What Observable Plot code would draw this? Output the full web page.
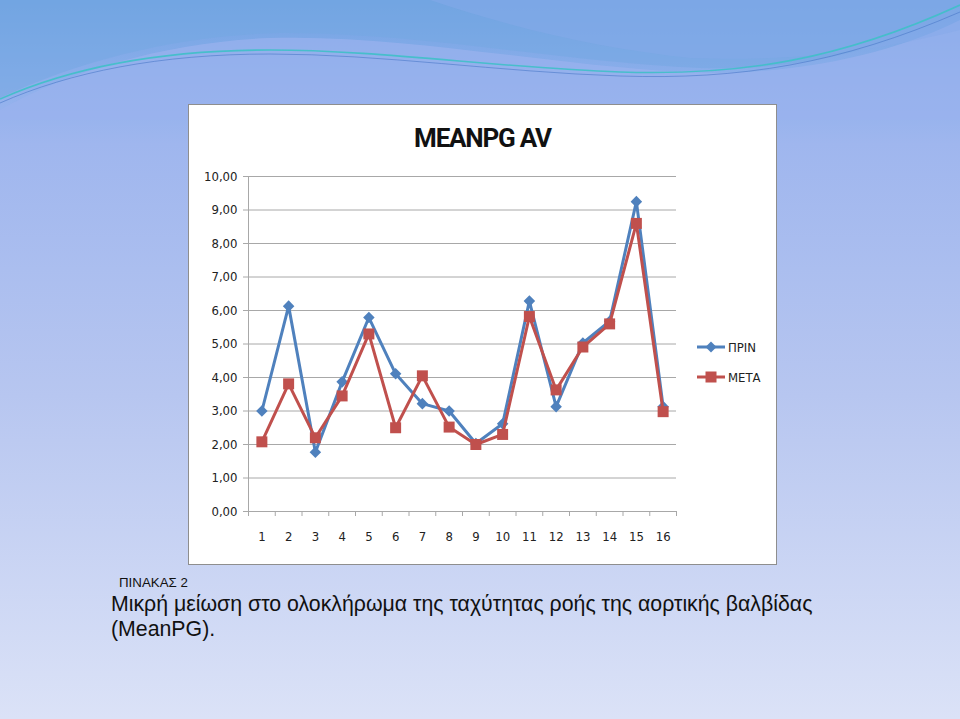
<!DOCTYPE html>
<html>
<head>
<meta charset="utf-8">
<script src="https://cdn.jsdelivr.net/npm/d3@7"></script>
<script src="https://cdn.jsdelivr.net/npm/@observablehq/plot@0.6"></script>
<style>
  html, body { margin: 0; padding: 0; }
  body {
    width: 960px; height: 719px; position: relative; overflow: hidden;
    background: linear-gradient(to bottom, #6fa2e2 0%, #8fb0ec 12%, #9fb6ee 20%, #b7c6f0 55%, #dbe2f7 100%);
    font-family: "Liberation Sans", Arial, sans-serif;
  }
  #deco { position: absolute; left: 0; top: 0; }
  #box {
    position: absolute; left: 188px; top: 104px; width: 589px; height: 461px;
    box-sizing: border-box; background: #fff; border: 1px solid #8e8e8e;
  }
  #title {
    position: absolute; left: 0; right: 0; top: 18px; text-align: center;
    font-family: Roboto, "DejaVu Sans Condensed", sans-serif;
    font-weight: bold; font-size: 26px; color: #111; letter-spacing: -1.2px;
  }
  #plot { position: absolute; left: 0; top: 55px; }
  #legend {
    position: absolute; left: 507px; top: 227px;
    font-family: "DejaVu Sans Condensed", sans-serif;
    font-size: 13px; color: #222;
  }
  .lg { display: flex; align-items: center; height: 30px; }
  .lg svg { margin-right: 2px; }
  #cap1 { position: absolute; left: 119px; top: 575px; font-size: 13.3px; color: #111; }
  #cap2 { position: absolute; left: 111px; top: 592px; font-size: 21.3px; line-height: 25px; color: #111; }
</style>
</head>
<body>
<svg id="deco" width="960" height="120" viewBox="0 0 960 120">
  <path d="M0,98 C80,60 180,35 280,33 C420,32 560,62 700,68 C820,72 900,40 960,10 L960,0 L0,0 Z" fill="#74a8e2" opacity="0.55"/>
  <path d="M0,110 C70,70 170,42 270,38 C400,34 540,64 680,72 C800,78 900,50 960,20 L960,120 L0,120 Z" fill="#9ab2ee" opacity="0.7"/>
  <path d="M430,0 C520,30 600,48 690,58 C800,62 880,50 960,30 L960,0 Z" fill="#86aaea" opacity="0.5"/>
  <path d="M0,99 C70,68 160,50 270,50 C380,50 500,68 620,72 C740,76 840,60 960,5" fill="none" stroke="#3fc0c8" stroke-width="1.6" opacity="0.9"/>
  <path d="M0,103 C70,72 160,54 270,54 C380,54 500,72 620,76 C740,80 840,64 960,12" fill="none" stroke="#4a78c8" stroke-width="1" opacity="0.6"/>
</svg>

<div id="box">
  <div id="title">MEANPG AV</div>
  <div id="plot"></div>
  <div id="legend">
    <div class="lg"><svg width="30" height="12"><line x1="1" y1="6" x2="29" y2="6" stroke="#4f81bd" stroke-width="3"/><path d="M15,0.5 L20.5,6 L15,11.5 L9.5,6 Z" fill="#4f81bd"/></svg>ΠΡΙΝ</div>
    <div class="lg"><svg width="30" height="12"><line x1="1" y1="6" x2="29" y2="6" stroke="#c0504d" stroke-width="3"/><rect x="9.5" y="0.5" width="11" height="11" fill="#c0504d"/></svg>ΜΕΤΑ</div>
  </div>
</div>

<div id="cap1">ΠΙΝΑΚΑΣ 2</div>
<div id="cap2">Μικρή μείωση στο ολοκλήρωμα της ταχύτητας ροής της αορτικής βαλβίδας<br>(MeanPG).</div>

<script>
const categories = [1, 2, 3, 4, 5, 6, 7, 8, 9, 10, 11, 12, 13, 14, 15, 16];
const prin = [3.00, 6.13, 1.77, 3.87, 5.79, 4.11, 3.22, 3.00, 2.03, 2.62, 6.28, 3.13, 5.03, 5.68, 9.25, 3.13];
const meta = [2.08, 3.81, 2.20, 3.45, 5.30, 2.50, 4.05, 2.52, 2.00, 2.30, 5.82, 3.63, 4.91, 5.60, 8.60, 2.98];
const yTicks = [0, 1, 2, 3, 4, 5, 6, 7, 8, 9, 10];
const seriesNames = ["ΠΡΙΝ", "ΜΕΤΑ"];

const prinData = categories.map((c, i) => ({cat: c, value: prin[i], series: seriesNames[0]}));
const metaData = categories.map((c, i) => ({cat: c, value: meta[i], series: seriesNames[1]}));
const edges = d3.range(0, categories.length + 1).map(i => i + 0.5);

const blue = "#4f81bd", red = "#c0504d", grid = "#a8a8a8";
const fmt = d => d.toFixed(2).replace(".", ",");

const chart = Plot.plot({
  width: 587,
  height: 405,
  marginLeft: 59,
  marginRight: 100,
  marginTop: 16,
  marginBottom: 54,
  style: {fontFamily: '"DejaVu Sans Condensed", sans-serif', background: "transparent"},
  x: {domain: [0.5, categories.length + 0.5]},
  y: {domain: [0, 10]},
  marks: [
    Plot.gridY(yTicks, {stroke: grid, strokeOpacity: 1}),
    Plot.ruleX([0.5], {stroke: grid}),
    Plot.axisY(yTicks, {tickSize: 5, tickPadding: 6, tickFormat: fmt, fontSize: 13, stroke: grid, fill: "#222", label: null}),
    Plot.axisX(edges, {tickSize: 5, tickFormat: () => "", stroke: grid, label: null}),
    Plot.axisX(categories, {tickSize: 0, tickPadding: 20, fontSize: 13, fill: "#222", label: null}),
    Plot.line(prinData, {x: "cat", y: "value", stroke: blue, strokeWidth: 3}),
    Plot.dot(prinData, {x: "cat", y: "value", symbol: "diamond2", r: 5.2, fill: blue, stroke: "none"}),
    Plot.line(metaData, {x: "cat", y: "value", stroke: red, strokeWidth: 3}),
    Plot.dot(metaData, {x: "cat", y: "value", symbol: "square", r: 6.2, fill: red, stroke: "none"})
  ]
});
document.getElementById("plot").appendChild(chart);
</script>
</body>
</html>
